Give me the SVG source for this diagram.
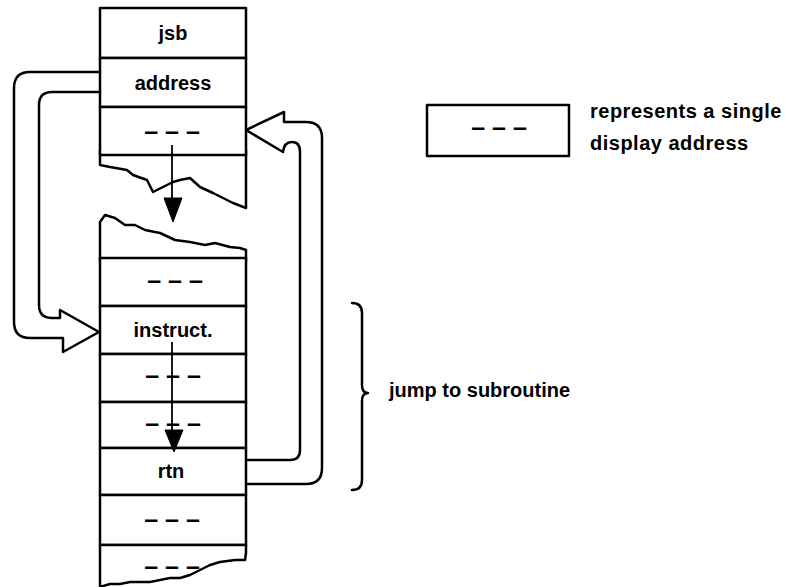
<svg xmlns="http://www.w3.org/2000/svg" width="786" height="587" viewBox="0 0 786 587">
<style>
.box{fill:#fff;stroke:#000;stroke-width:2.5;stroke-linejoin:round}
.ln{fill:none;stroke:#000;stroke-width:2.5;stroke-linejoin:round;stroke-linecap:round}
.thin{fill:none;stroke:#000;stroke-width:1.8}
.head{fill:#000;stroke:#000;stroke-width:1}
.lbl{font-family:"Liberation Sans",Arial,sans-serif;font-size:20px;font-weight:bold;text-anchor:middle;fill:#000}
.dash{font-family:"Liberation Sans",Arial,sans-serif;font-size:25px;font-weight:bold;text-anchor:middle;fill:#000}
.note{font-family:"Liberation Sans",Arial,sans-serif;font-size:20px;font-weight:bold;letter-spacing:0.5px;fill:#000}
</style>
<rect width="786" height="587" fill="#fff"/>

<g id="upper-stack">
  <g id="upper-cut"><path class="box" d="M100,150 V165 L110,167 L127,170 L133,175 L147,180 L153,192 L163,187 L173,182 L180,180 L190,178 L200,187 L213,193 L227,200 L233,203 L246,208 V150"/></g>
  <g id="row-jsb"><rect class="box" x="100" y="8" width="146" height="50"/><text class="lbl" x="173" y="40">jsb</text></g>
  <g id="row-address"><rect class="box" x="100" y="58" width="146" height="49"/><text class="lbl" x="173" y="90">address</text></g>
  <g id="row-upper-dash"><rect class="box" x="100" y="107" width="146" height="48"/><text class="dash" x="172" y="140">– – –</text></g>
</g>

<g id="lower-stack">
  <g id="lower-cut"><path class="box" d="M100,262 V222 L105,215 L115,218 L125,225 L135,225 L145,230 L160,233 L175,240 L190,242 L205,245 L215,243 L230,247 L240,248 L246,250 V262"/></g>
  <g id="row-lower-dash1"><rect class="box" x="100" y="258" width="146" height="48"/><text class="dash" x="175" y="289">– – –</text></g>
  <g id="row-instruct"><rect class="box" x="100" y="306" width="146" height="48"/><text class="lbl" x="173" y="337">instruct.</text></g>
  <g id="row-lower-dash2"><rect class="box" x="100" y="354" width="146" height="48"/><text class="dash" x="173" y="384">– – –</text></g>
  <g id="row-lower-dash3"><rect class="box" x="100" y="402" width="146" height="46"/><text class="dash" x="173" y="432">– – –</text></g>
  <g id="row-rtn"><rect class="box" x="100" y="448" width="146" height="47"/><text class="lbl" x="171" y="478">rtn</text></g>
  <g id="row-lower-dash4"><rect class="box" x="100" y="495" width="146" height="50"/><text class="dash" x="172" y="528">– – –</text></g>
  <g id="row-bottom-cut"><path class="box" d="M100,545 V587 L110,584 L120,584 L130,582 L150,582 L160,580 L170,578 L180,578 L190,575 L200,570 L210,565 L220,562 L235,560 L245,560 L246,553 V545 Z"/><text class="dash" x="172" y="575">– – –</text></g>
</g>

<g id="legend">
  <rect class="box" x="427" y="105" width="142" height="51"/>
  <text class="dash" x="499" y="136">– – –</text>
  <text class="note" x="590" y="118">represents a single</text>
  <text class="note" x="590" y="150">display address</text>
</g>

<g id="brace-label">
  <path class="ln" d="M352,303 Q362,303 362,313 V385 Q362,393 368,393 Q362,393 362,401 V480 Q362,490 352,490"/>
  <text class="note" x="389" y="397" style="letter-spacing:0">jump to subroutine</text>
</g>

<g id="connectors">
  <path id="jump-arrow" class="ln" d="M100,72 H30 Q14,72 14,88 V322 Q14,338 30,338 H63 V352 L99,332 L60,310 V318 H52 Q39,318 39,305 V105 Q39,92 52,92 H100"/>
  <path id="return-arrow" class="ln" d="M248,484 H306 Q322,484 322,468 V138 Q322,122 306,122 H284 V112 L246,130 L283,152 Q284,142 292,142 Q300,142 300,152 V450 Q300,460 290,460 H248"/>
  <g id="flow-upper"><line class="thin" x1="172" y1="145" x2="172" y2="205"/><polygon class="head" points="164,198 182,198 173,222"/></g>
  <g id="flow-lower"><line class="thin" x1="172" y1="342" x2="172" y2="435"/><polygon class="head" points="165,430 183,430 174,452"/></g>
</g>
</svg>
